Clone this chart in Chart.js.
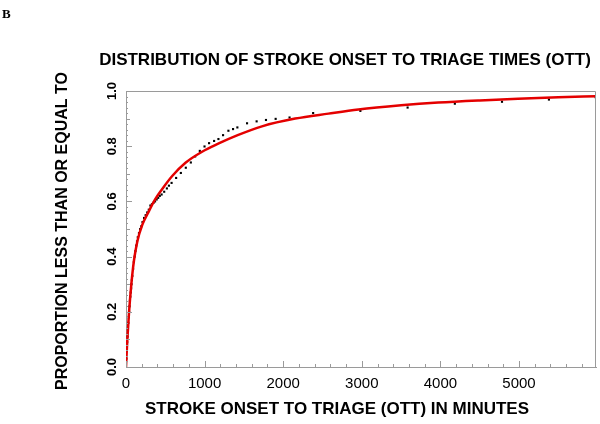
<!DOCTYPE html>
<html>
<head>
<meta charset="utf-8">
<script src="https://cdn.jsdelivr.net/npm/chart.js@4"></script>
<style>
  html, body { margin: 0; padding: 0; background: #fff; }
  #wrap { width: 600px; height: 424px; }
</style>
</head>
<body>
<div id="wrap"><canvas id="ott"></canvas></div>
<script>
// observed OTT values (minutes) and cumulative proportion
var obsMinutes = [5, 10, 15, 20, 25, 30, 35, 40, 45, 50, 55, 60, 65, 70, 75, 80, 90, 100, 110, 120, 130, 140, 150, 165, 180, 195, 210, 230, 250, 270, 290,
  310, 330, 350, 370, 390, 410, 430, 453, 486, 520, 546, 580, 638, 698, 761, 825, 880, 939, 999, 1057, 1121, 1176, 1235, 1303, 1362, 1417,
  1540, 1662, 1781, 1904, 2081, 2381, 2982, 3583, 4184, 4784, 5381, 5975];
var obsProp = [0.03, 0.06, 0.09, 0.11, 0.135, 0.16, 0.18, 0.20, 0.22, 0.24, 0.255, 0.27, 0.285, 0.30, 0.315, 0.33, 0.355, 0.38, 0.40, 0.42, 0.44, 0.455, 0.47, 0.485, 0.50, 0.51, 0.525, 0.54, 0.55, 0.56, 0.57,
  0.585, 0.59, 0.595, 0.60, 0.607, 0.613, 0.62, 0.625, 0.635, 0.647, 0.657, 0.667, 0.685, 0.703, 0.722, 0.741, 0.763, 0.783, 0.799, 0.811, 0.819, 0.826, 0.840, 0.856, 0.862, 0.868,
  0.883, 0.890, 0.895, 0.899, 0.904, 0.920, 0.928, 0.940, 0.954, 0.961, 0.969, 0.978];

// fitted curve (red)
var fitMinutes = [0, 17, 38, 68, 101, 144, 207, 292, 376, 461, 588, 757, 968, 1180, 1421, 1730, 2153, 2576, 2957, 3500, 3972, 4500, 4987, 5500, 5980];
var fitProp = [0, 0.10, 0.195, 0.30, 0.385, 0.455, 0.515, 0.565, 0.61, 0.645, 0.692, 0.74, 0.78, 0.81, 0.84, 0.872, 0.90, 0.918, 0.933, 0.948, 0.958, 0.966, 0.972, 0.977, 0.981];

var xLabels = [0, 1000, 2000, 3000, 4000, 5000];
var yLabels = [0, 0.2, 0.4, 0.6, 0.8, 1.0];

var chartTitle = 'DISTRIBUTION OF STROKE ONSET TO TRIAGE TIMES (OTT)';
var xTitle = 'STROKE ONSET TO TRIAGE (OTT) IN MINUTES';
var yTitle = 'PROPORTION LESS THAN OR EQUAL TO';

var SANS = '"Liberation Sans", Arial, sans-serif';
var AXIS = '#9a9a9a';

function pairs(xs, ys) {
  return xs.map(function (x, i) { return { x: x, y: ys[i] }; });
}

// frame, inward ticks and all the text
var decor = {
  id: 'decor',
  afterDraw: function (chart) {
    var ctx = chart.ctx, a = chart.chartArea;
    var sx = chart.scales.x, sy = chart.scales.y;
    ctx.save();

    // top + right frame
    ctx.strokeStyle = AXIS;
    ctx.lineWidth = 1;
    ctx.beginPath();
    ctx.moveTo(a.left, a.top + 0.5); ctx.lineTo(a.right - 0.5, a.top + 0.5);
    ctx.lineTo(a.right - 0.5, a.bottom);
    ctx.stroke();

    // x ticks every 200, longer at 1000
    ctx.beginPath();
    for (var v = 0; v <= sx.max; v += 200) {
      var px = Math.round(sx.getPixelForValue(v)) + 0.5;
      var len = (v % 1000 === 0) ? 6 : 3;
      ctx.moveTo(px, a.bottom); ctx.lineTo(px, a.bottom - len);
    }
    // y ticks every 0.02, mid at 0.1, long at 0.2
    for (var k = 0; k <= 50; k++) {
      var py = Math.round(sy.getPixelForValue(k / 50)) + 0.5;
      var l = (k % 10 === 0) ? 6 : (k % 5 === 0 ? 4 : 2);
      ctx.moveTo(a.left, py); ctx.lineTo(a.left + l, py);
    }
    ctx.stroke();

    ctx.fillStyle = '#000';
    ctx.textAlign = 'center';
    ctx.textBaseline = 'middle';

    // x tick labels
    ctx.font = '15px ' + SANS;
    xLabels.forEach(function (v) {
      ctx.fillText(String(v), sx.getPixelForValue(v), a.bottom + 17);
    });

    // y tick labels, rotated
    ctx.font = 'bold 13px ' + SANS;
    yLabels.forEach(function (v) {
      ctx.save();
      ctx.translate(a.left - 14, sy.getPixelForValue(v));
      ctx.rotate(-Math.PI / 2);
      ctx.fillText(v.toFixed(1), 0, 0);
      ctx.restore();
    });

    // titles
    ctx.font = 'bold 17px ' + SANS;
    ctx.fillText(chartTitle, 345, 60);
    ctx.fillText(xTitle, 337, 409);
    ctx.font = 'bold 16px ' + SANS;
    ctx.save();
    ctx.translate(63, 231);
    ctx.rotate(-Math.PI / 2);
    ctx.fillText(yTitle, 0, 0);
    ctx.restore();

    // panel letter
    ctx.textAlign = 'left';
    ctx.font = 'bold 13px "Liberation Serif", "Times New Roman", serif';
    ctx.fillText('B', 2, 15);

    ctx.restore();
  }
};

new Chart(document.getElementById('ott'), {
  type: 'scatter',
  data: {
    datasets: [
      {
        label: 'fit',
        type: 'line',
        data: pairs(fitMinutes, fitProp),
        borderColor: '#e40000',
        borderWidth: 2.5,
        pointRadius: 0,
        cubicInterpolationMode: 'monotone',
        fill: false
      },
      {
        label: 'observed',
        data: pairs(obsMinutes, obsProp),
        pointStyle: 'rect',
        pointRadius: 1.5,
        backgroundColor: '#000',
        borderColor: '#000',
        borderWidth: 0
      }
    ]
  },
  options: {
    responsive: true,
    maintainAspectRatio: false,
    animation: false,
    layout: { padding: { left: 126, right: 2, top: 91, bottom: 57 } },
    plugins: {
      legend: { display: false },
      tooltip: { enabled: false },
      title: { display: false }
    },
    scales: {
      x: {
        type: 'linear',
        min: 0,
        max: 5980,
        ticks: { display: false, stepSize: 200 },
        grid: { display: false, drawTicks: false },
        border: { display: true, color: AXIS, width: 1 },
        afterFit: function (s) { s.height = 0; }
      },
      y: {
        min: 0,
        max: 1,
        ticks: { display: false, stepSize: 0.02 },
        grid: { display: false, drawTicks: false },
        border: { display: true, color: AXIS, width: 1 },
        afterFit: function (s) { s.width = 0; }
      }
    }
  },
  plugins: [decor]
});
</script>
</body>
</html>
